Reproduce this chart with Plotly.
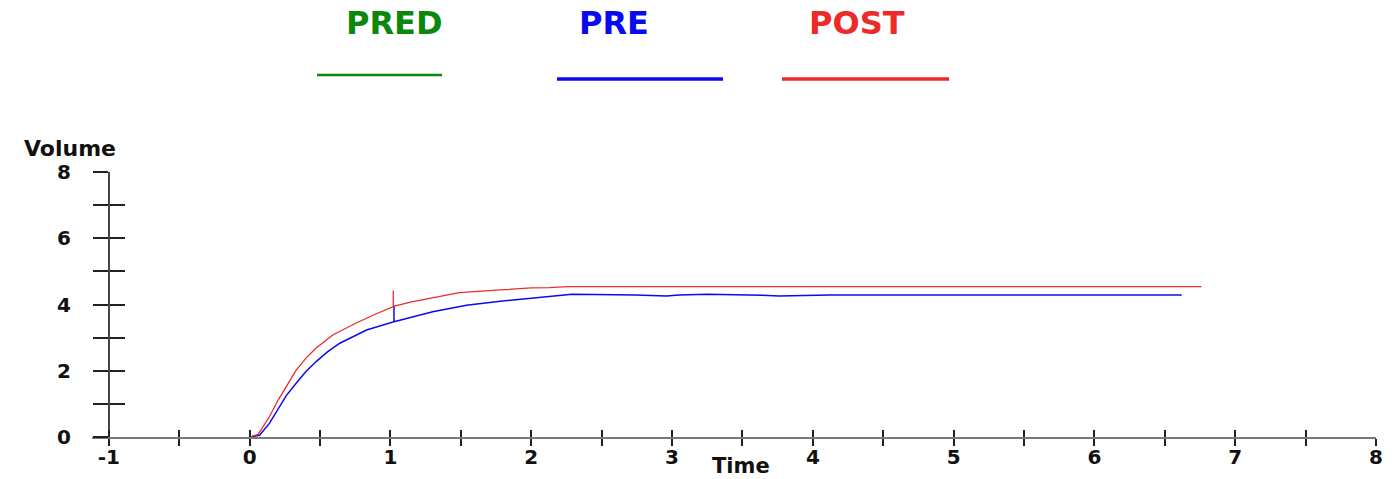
import plotly.graph_objects as go

# ---------------- data ----------------
post_time = [0, 0.06, 0.14, 0.20, 0.26, 0.33, 0.40, 0.47, 0.59, 0.76, 0.90, 1.02, 1.02, 1.02,
             1.15, 1.30, 1.49, 1.78, 2.00, 2.13, 2.26, 3.00, 4.00, 5.00, 6.00, 6.76]
post_vol = [0, 0.08, 0.61, 1.10, 1.52, 2.02, 2.38, 2.68, 3.08, 3.45, 3.72, 3.94, 4.42, 3.94,
            4.08, 4.21, 4.36, 4.44, 4.50, 4.51, 4.54, 4.54, 4.54, 4.54, 4.54, 4.54]

pre_time = [0, 0.07, 0.14, 0.20, 0.26, 0.33, 0.40, 0.47, 0.55, 0.64, 0.83, 1.025, 1.025, 1.025,
            1.30, 1.54, 1.78, 2.00, 2.13, 2.29, 2.74, 2.96, 3.05, 3.25, 3.64, 3.76, 4.12,
            5.00, 6.00, 6.62]
pre_vol = [0, 0.05, 0.41, 0.85, 1.25, 1.62, 1.98, 2.27, 2.56, 2.83, 3.23, 3.48, 3.97, 3.48,
           3.78, 3.98, 4.10, 4.20, 4.26, 4.31, 4.29, 4.26, 4.29, 4.31, 4.28, 4.26, 4.29,
           4.29, 4.29, 4.29]

pred_time = []
pred_vol = []

series_names = ["PRED", "PRE", "POST"]
series_colors = ["#0b870b", "#0a0aee", "#ec2a2a"]

x_tick_vals = [-1, -0.5, 0, 0.5, 1, 1.5, 2, 2.5, 3, 3.5, 4, 4.5, 5, 5.5, 6, 6.5, 7, 7.5, 8]
x_tick_labels = ["-1", "", "0", "", "1", "", "2", "", "3", "", "4", "", "5", "", "6", "", "7", "", "8"]
y_tick_vals = [0, 1, 2, 3, 4, 5, 6, 7, 8]
y_tick_labels = ["0", "", "2", "", "4", "", "6", "", "8"]

# ---------------- layout geometry ----------------
W, H = 1400, 479
ML, MR, MT, MB = 92, 24, 172, 42
PW, PH = W - ML - MR, H - MT - MB
XR = [-1.12, 8]
YR = [0, 8]
ypos = (-1 - XR[0]) / (XR[1] - XR[0])


def px(x):
    return (x - ML) / PW


def py(y):
    return (H - MB - y) / PH


FONT = "DejaVu Sans"

fig = go.Figure()
fig.add_trace(go.Scatter(x=pred_time, y=pred_vol, mode="lines", name=series_names[0],
                         line=dict(color=series_colors[0], width=1.5), xaxis="x2", yaxis="y2"))
fig.add_trace(go.Scatter(x=pre_time, y=pre_vol, mode="lines", name=series_names[1],
                         line=dict(color=series_colors[1], width=1.5)))
fig.add_trace(go.Scatter(x=post_time, y=post_vol, mode="lines", name=series_names[2],
                         line=dict(color=series_colors[2], width=1.3)))

tickfont = dict(family=FONT, size=20, color="#111111", weight="bold")

fig.update_layout(
    width=W, height=H,
    margin=dict(l=ML, r=MR, t=MT, b=MB, pad=0),
    paper_bgcolor="white", plot_bgcolor="white",
    showlegend=False,
    xaxis=dict(range=XR, showgrid=False, zeroline=False, showline=True, linecolor="#777777",
               linewidth=2, ticks="outside", ticklen=7, tickwidth=2, tickcolor="#222222",
               tickmode="array", tickvals=x_tick_vals, ticktext=x_tick_labels,
               tickfont=tickfont, automargin=False, anchor="y", ticklabelstandoff=-6),
    xaxis2=dict(range=XR, overlaying="x", anchor="y", side="bottom", showgrid=False,
                zeroline=False, showline=False, ticks="inside", ticklen=7, tickwidth=2,
                tickcolor="#222222", tickmode="array", tickvals=x_tick_vals,
                showticklabels=False, automargin=False),
    yaxis=dict(range=YR, showgrid=False, zeroline=False, showline=True, linecolor="#444444",
               linewidth=2, ticks="outside", ticklen=15, tickwidth=1.5, tickcolor="#222222",
               tickmode="array", tickvals=y_tick_vals, ticktext=y_tick_labels,
               tickfont=tickfont, automargin=False, anchor="free", position=ypos,
               ticklabelstandoff=18),
    yaxis2=dict(range=YR, overlaying="y", anchor="free", position=ypos, showgrid=False,
                zeroline=False, showline=False, ticks="inside", ticklen=15, tickwidth=1.5,
                tickcolor="#222222", tickmode="array", tickvals=y_tick_vals,
                showticklabels=False, automargin=False),
)

# legend (text above, line below), drawn in the plot's paper coordinates
legend_text_cx = [394, 614, 857]
legend_line_x = [(317, 442), (557, 723), (782, 949)]
legend_line_y = [75, 79, 79]
legend_line_w = [2.5, 3.5, 3.5]
for name, col, cx, (x0, x1), ly, lw in zip(series_names, series_colors, legend_text_cx,
                                             legend_line_x, legend_line_y, legend_line_w):
    fig.add_annotation(text=name, xref="paper", yref="paper", x=px(cx), y=py(23),
                       xanchor="center", yanchor="middle", showarrow=False,
                       font=dict(family=FONT, size=32, color=col, weight="bold"))
    fig.add_shape(type="line", xref="paper", yref="paper", x0=px(x0), x1=px(x1),
                  y0=py(ly), y1=py(ly), line=dict(color=col, width=lw))

# axis titles
fig.add_annotation(text="Volume", xref="paper", yref="paper", x=px(22), y=py(148),
                   xanchor="left", yanchor="middle", showarrow=False,
                   font=dict(family=FONT, size=22, color="#111111", weight="bold"))
fig.add_annotation(text="Time", xref="paper", yref="paper", x=px(741), y=py(466),
                   xanchor="center", yanchor="middle", showarrow=False,
                   font=dict(family=FONT, size=21, color="#111111", weight="bold"))

fig.write_html("out.html", post_script="document.body.style.margin='0';",
               config={"displayModeBar": False})
